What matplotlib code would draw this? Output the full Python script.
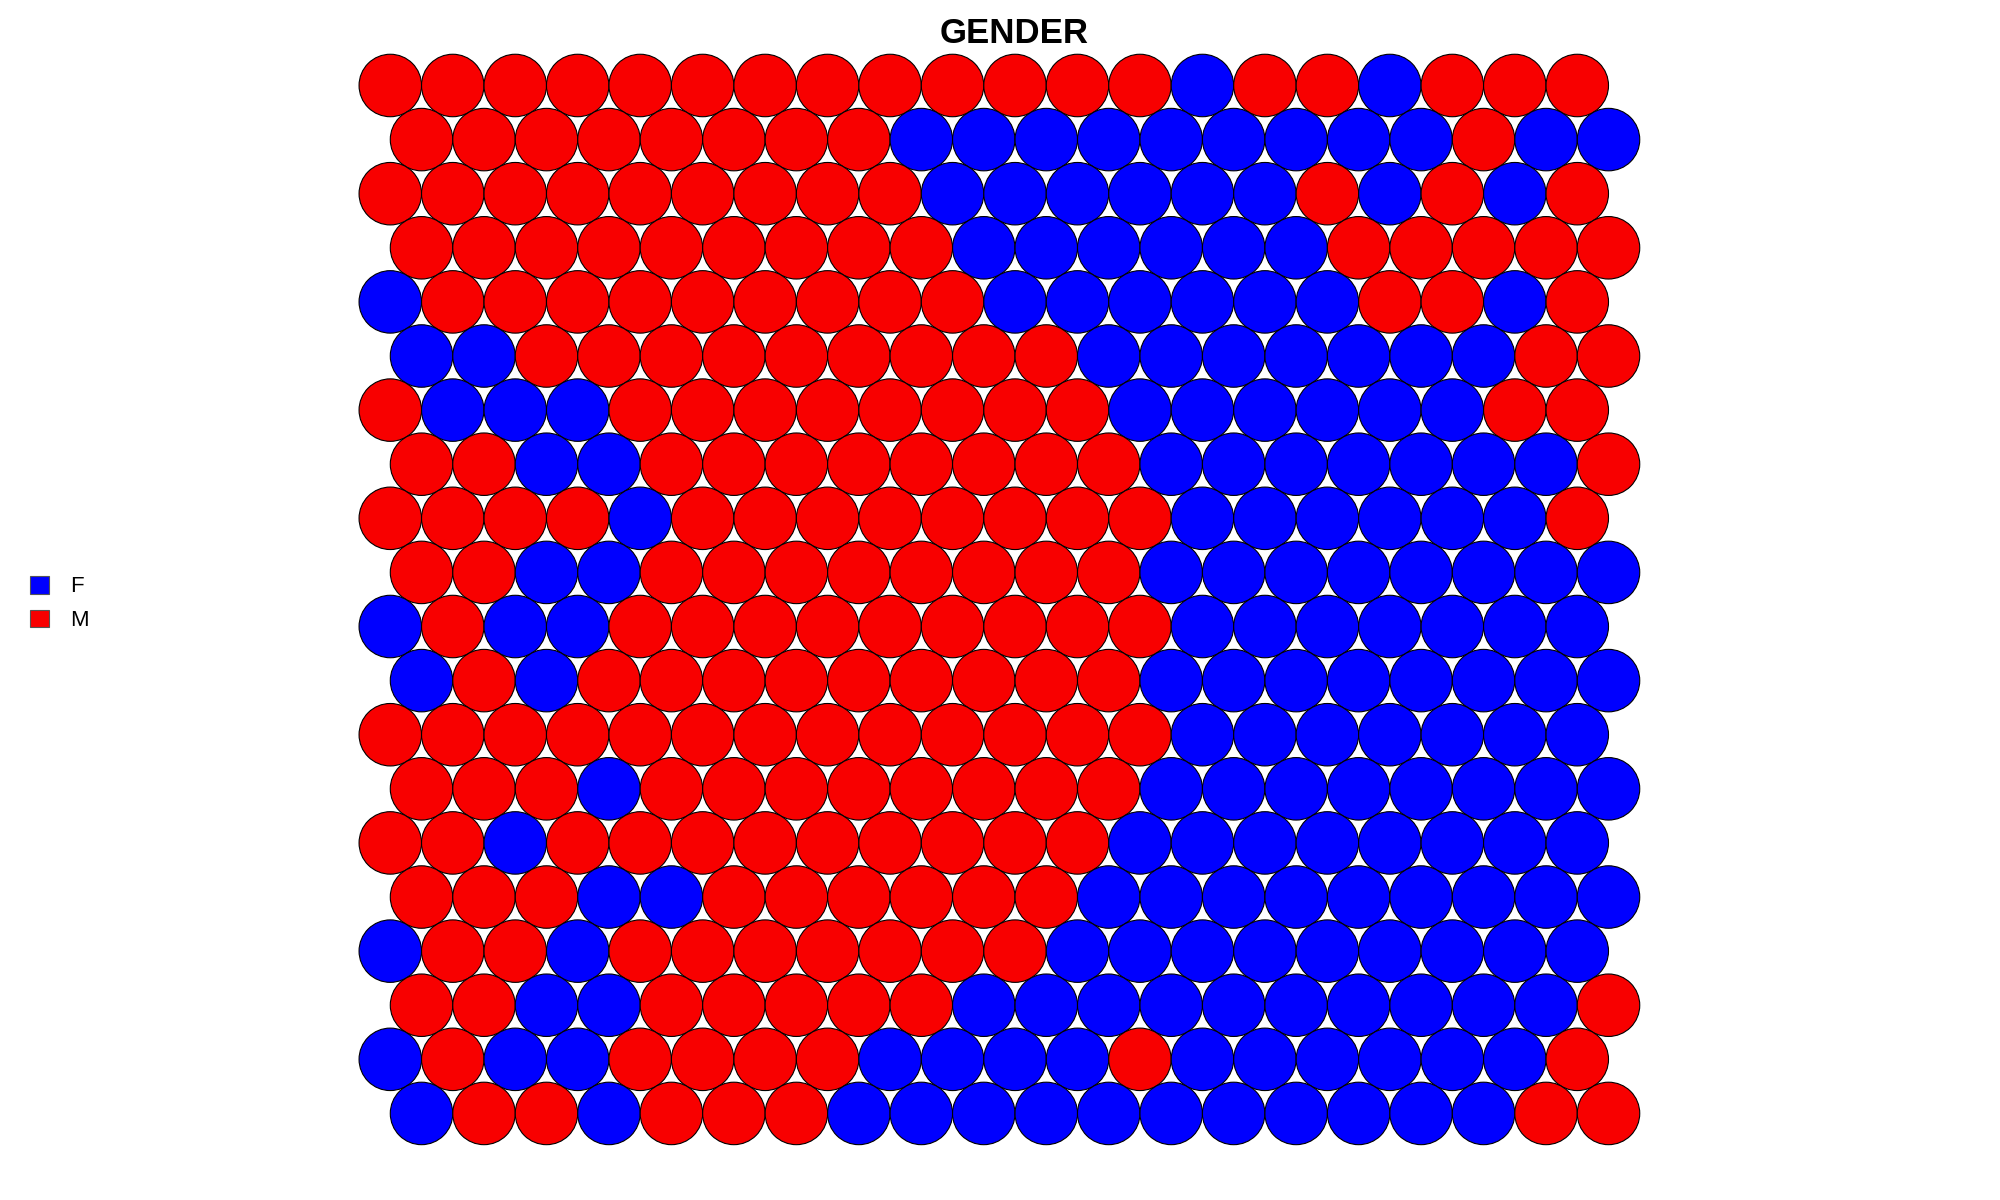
import numpy as np
import matplotlib
matplotlib.use("Agg")
import matplotlib.pyplot as plt
from matplotlib.patches import Circle, Patch
from matplotlib.collections import PatchCollection

plt.rcParams['font.family'] = ['Liberation Sans', 'DejaVu Sans']

# SOM-Karte 20x20, Zeile 1 = oben, gerade Zeilen um halbe Zelle versetzt
gender_rows = [
    "MMMMMMMMMMMMMFMMFMMM",
    "MMMMMMMMFFFFFFFFFMFF",
    "MMMMMMMMMFFFFFFMFMFM",
    "MMMMMMMMMFFFFFFMMMMM",
    "FMMMMMMMMMFFFFFFMMFM",
    "FFMMMMMMMMMFFFFFFFMM",
    "MFFFMMMMMMMMFFFFFFMM",
    "MMFFMMMMMMMMFFFFFFFM",
    "MMMMFMMMMMMMMFFFFFFM",
    "MMFFMMMMMMMMFFFFFFFF",
    "FMFFMMMMMMMMMFFFFFFF",
    "FMFMMMMMMMMMFFFFFFFF",
    "MMMMMMMMMMMMMFFFFFFF",
    "MMMFMMMMMMMMFFFFFFFF",
    "MMFMMMMMMMMMFFFFFFFF",
    "MMMFFMMMMMMFFFFFFFFF",
    "FMMFMMMMMMMFFFFFFFFF",
    "MMFFMMMMMFFFFFFFFFFM",
    "FMFFMMMMFFFFMFFFFFFM",
    "FMMFMMMFFFFFFFFFFFMM",
]
categories = ["F", "M"]
cat_colors = {"F": "#0000FF", "M": "#F80000"}
title = "GENDER"

fig = plt.figure(figsize=(20, 12), dpi=100)
ax = fig.add_axes([0.1764, 0.0409, 0.6466, 0.9191])

row_h = np.sqrt(3) / 2
circles, colors = [], []
for r, row in enumerate(gender_rows):
    for c, g in enumerate(row):
        x = c + (0.5 if r % 2 == 1 else 0.0)
        y = -r * row_h
        circles.append(Circle((x, y), 0.5))
        colors.append(cat_colors[g])

pc = PatchCollection(circles, facecolors=colors, edgecolors="black", linewidths=0.8)
ax.add_collection(pc)

n_rows = len(gender_rows)
ax.set_xlim(-0.6, 20.1)
ax.set_ylim(-(n_rows - 1) * row_h - 0.6, 0.6)
ax.set_aspect("equal")
ax.axis("off")

fig.text(0.507, 0.972, title, ha="center", va="center", fontsize=25, fontweight="bold")

handles = [Patch(facecolor=cat_colors[k], edgecolor="#555555", linewidth=0.8) for k in categories]
fig.legend(handles, categories, loc="center left", bbox_to_anchor=(0.015, 0.497),
           frameon=False, fontsize=16, handlelength=0.85, handleheight=0.85,
           handletextpad=0.95, labelspacing=0.55, borderpad=0, borderaxespad=0)

fig.savefig("out.png", dpi=100)
